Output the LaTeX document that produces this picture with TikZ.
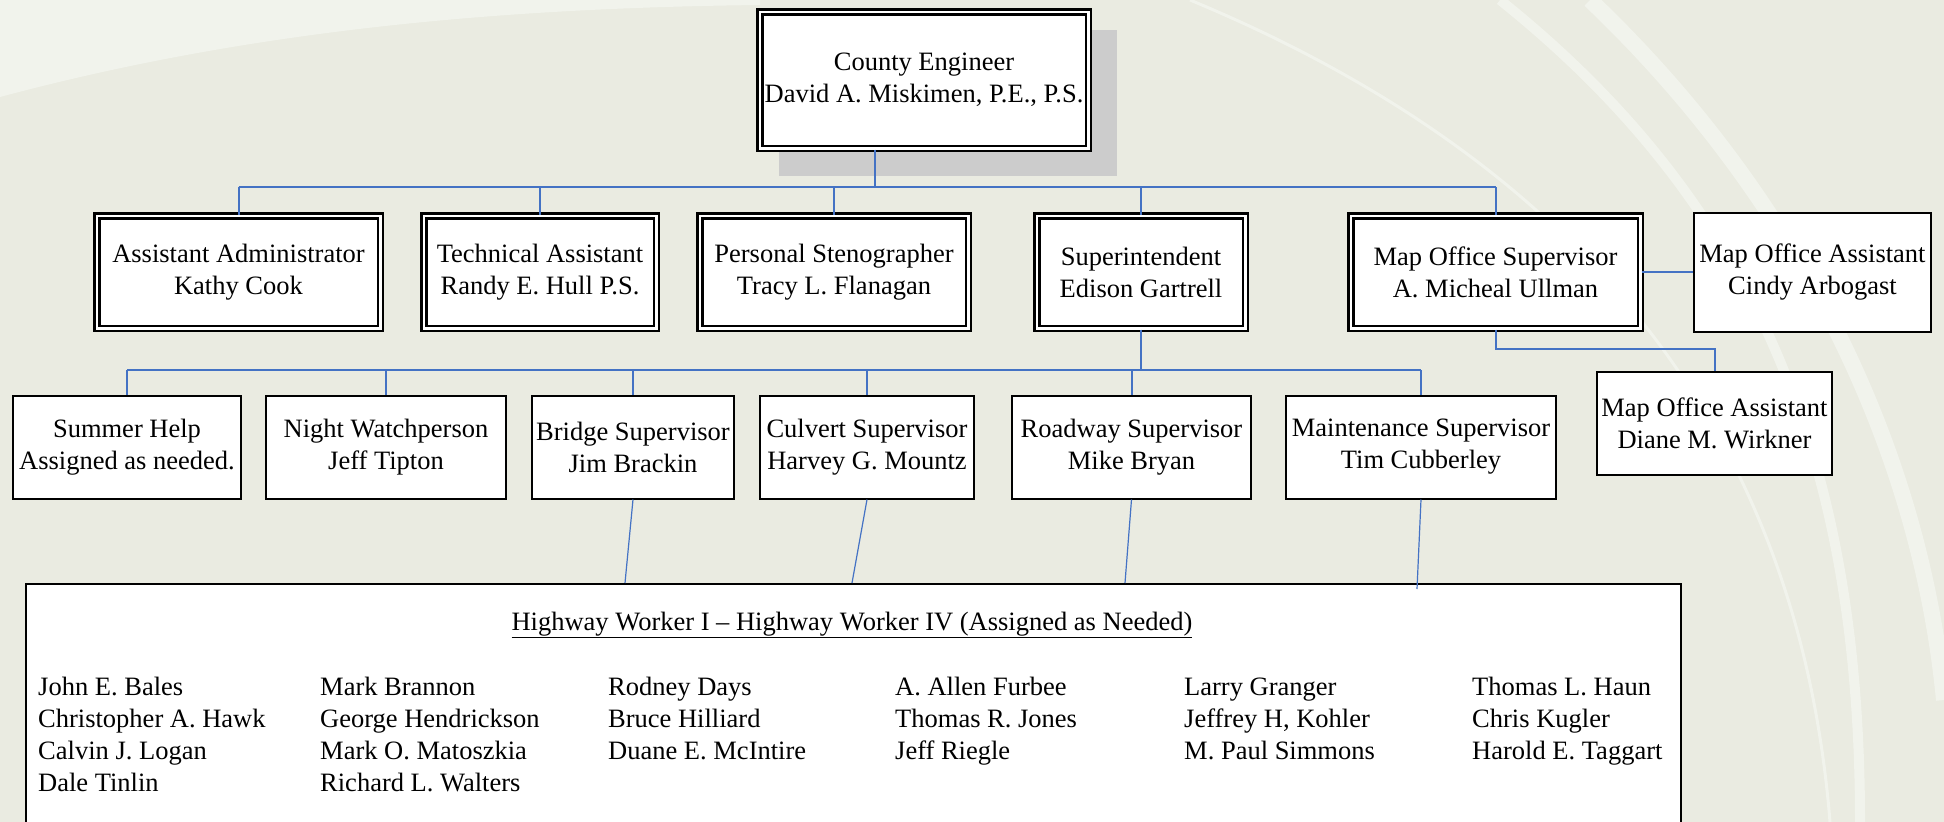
\documentclass[tikz,border=0pt]{standalone}
\usepackage{fontspec}
\setmainfont{Liberation Serif}
\usetikzlibrary{calc}
\definecolor{bgcol}{RGB}{234,235,225}
\definecolor{swoosh}{RGB}{241,243,236}
\definecolor{linkblue}{RGB}{68,114,196}
\definecolor{shadowgray}{RGB}{204,204,204}
\newcommand{\orgfont}{\fontsize{26.5}{32}\selectfont}
\tikzset{
  dbox/.style={draw=black, double=white, line width=2.5pt, double distance=2.5pt, fill=white, align=center, font=\orgfont, inner sep=2pt},
  sbox/.style={draw=black, line width=2pt, fill=white, align=center, font=\orgfont, inner sep=2pt},
  link/.style={draw=linkblue, line width=2pt},
  thinlink/.style={draw=linkblue, line width=1.2pt},
  wname/.style={anchor=base west, inner sep=0pt, font=\orgfont}
}

\begin{document}
\begin{tikzpicture}[x=1pt,y=-1pt]
\useasboundingbox (0,0) rectangle (1944,822);
%background
\fill[bgcol] (0,0) rectangle (1944,822);
\fill[swoosh] (0,0) -- (0,97) .. controls (250,30) and (500,8) .. (760,5) -- (760,0) -- cycle;
\draw[swoosh, line width=3pt] (1190,0) .. controls (1600,170) and (1800,450) .. (1830,822);
\draw[swoosh, line width=10pt] (1500,0) .. controls (1750,200) and (1860,450) .. (1860,822);
\draw[swoosh, line width=16pt] (1590,0) .. controls (1800,200) and (1920,450) .. (1944,700);

%shadow of the top box
\fill[shadowgray] (779,30) rectangle (1117,176);

%nodes
\node[dbox, minimum width=328.5, minimum height=136.5] (ce) at (924,80) {County Engineer\\David A. Miskimen, P.E., P.S.};

\node[dbox, minimum width=283.5, minimum height=112.5] (aa) at (238.5,272) {Assistant Administrator\\Kathy Cook};
\node[dbox, minimum width=232.5, minimum height=112.5] (ta) at (540,272) {Technical Assistant\\Randy E. Hull P.S.};
\node[dbox, minimum width=268.5, minimum height=112.5] (ps) at (834,272) {Personal Stenographer\\Tracy L. Flanagan};
\node[dbox, minimum width=208.5, minimum height=112.5] (sup) at (1141,272) {Superintendent\\Edison Gartrell};
\node[dbox, minimum width=289.5, minimum height=112.5] (mos) at (1495.5,272) {Map Office Supervisor\\A. Micheal Ullman};
\node[sbox, minimum width=237, minimum height=119] (moa1) at (1812.5,272) {Map Office Assistant\\Cindy Arbogast};

\node[sbox, minimum width=228, minimum height=103] (sh) at (127,447) {Summer Help\\Assigned as needed.};
\node[sbox, minimum width=240, minimum height=103] (nw) at (386,447) {Night Watchperson\\Jeff Tipton};
\node[sbox, minimum width=202, minimum height=103] (br) at (633,447) {Bridge Supervisor\\Jim Brackin};
\node[sbox, minimum width=214, minimum height=103] (cu) at (867,447) {Culvert Supervisor\\Harvey G. Mountz};
\node[sbox, minimum width=239, minimum height=103] (rd) at (1131.5,447) {Roadway Supervisor\\Mike Bryan};
\node[sbox, minimum width=270, minimum height=103] (mt) at (1421,447) {Maintenance Supervisor\\Tim Cubberley};
\node[sbox, minimum width=235, minimum height=103] (moa2) at (1714.5,423) {Map Office Assistant\\Diane M. Wirkner};

\node[sbox, anchor=north west, minimum width=1655, minimum height=300] (hw) at (25,583) {};
\node[font=\orgfont, anchor=base] (hwtitle) at (852,630) {\underline{Highway Worker I – Highway Worker IV (Assigned as Needed)}};

\foreach \n [count=\i] in {John E. Bales, Christopher A. Hawk, Calvin J. Logan, Dale Tinlin}
  \node[wname] (hwa\i) at (38,663+32*\i) {\n};
\foreach \n [count=\i] in {Mark Brannon, George Hendrickson, Mark O. Matoszkia, Richard L. Walters}
  \node[wname] (hwb\i) at (320,663+32*\i) {\n};
\foreach \n [count=\i] in {Rodney Days, Bruce Hilliard, Duane E. McIntire}
  \node[wname] (hwc\i) at (608,663+32*\i) {\n};
\foreach \n [count=\i] in {A. Allen Furbee, Thomas R. Jones, Jeff Riegle}
  \node[wname] (hwd\i) at (895,663+32*\i) {\n};
\foreach \n [count=\i] in {Larry Granger, {Jeffrey H, Kohler}, M. Paul Simmons}
  \node[wname] (hwe\i) at (1184,663+32*\i) {\n};
\foreach \n [count=\i] in {Thomas L. Haun, Chris Kugler, Harold E. Taggart}
  \node[wname] (hwf\i) at (1472,663+32*\i) {\n};

%edges
\coordinate (busa) at (0,187);
\coordinate (busb) at (0,370);
\draw[link] ($(ce.south)+(-49,0)$) -- ($(ce.south |- busa)+(-49,0)$);
\draw[link] (aa.north |- busa) -- (mos.north |- busa);
\foreach \b in {aa,ta,ps,sup,mos}
  \draw[link] (\b.north) -- (\b.north |- busa);

\draw[link] (sup.south) -- (sup.south |- busb);
\draw[link] (sh.north |- busb) -- (mt.north |- busb);
\foreach \b in {sh,nw,br,cu,rd,mt}
  \draw[link] (\b.north) -- (\b.north |- busb);

\draw[link] (mos.east) -- (moa1.west);
\draw[link] (mos.south) -- ++(0,19) -| (moa2.north);

\coordinate (brend) at (625,583);
\coordinate (cuend) at (852,583);
\coordinate (rdend) at (1125,583);
\coordinate (mtend) at (1417,589);
\draw[thinlink] (br.south) -- (brend);
\draw[thinlink] (cu.south) -- (cuend);
\draw[thinlink] (rd.south) -- (rdend);
\draw[thinlink] (mt.south) -- (mtend);
\end{tikzpicture}
\end{document}
